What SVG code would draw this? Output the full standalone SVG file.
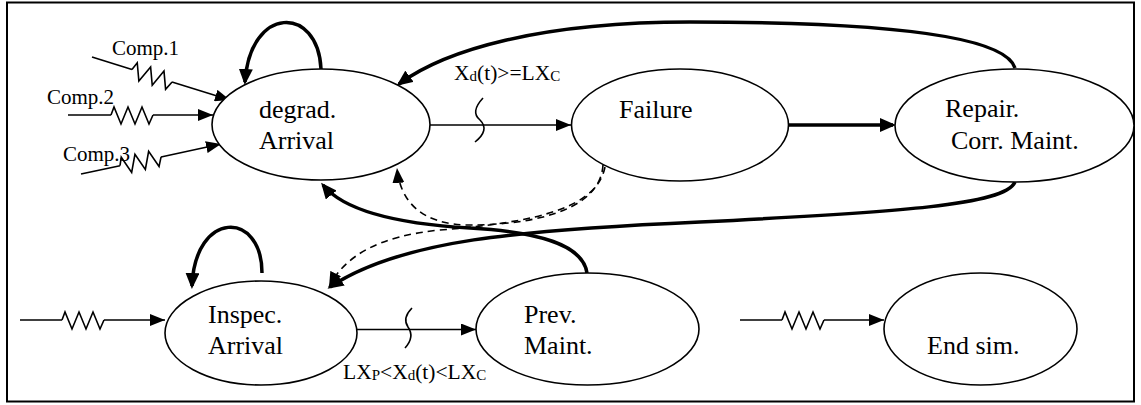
<svg xmlns="http://www.w3.org/2000/svg" width="1141" height="405" viewBox="0 0 1141 405">
<style>
.node{fill:#fff;stroke:#000;stroke-width:1.6}
text{font-family:'Liberation Serif','Times New Roman',Times,'DejaVu Serif',serif;fill:#000}
.t{font-size:26px}
.s{font-size:21px}
.l{font-size:21.5px}
.sub{font-size:15px}
.thin{fill:none;stroke:#000;stroke-width:1.6}
.thick{fill:none;stroke:#000;stroke-width:3.5}
.dash{fill:none;stroke:#000;stroke-width:1.6;stroke-dasharray:7 5}
</style>
<defs>
<marker id="ah" markerWidth="16" markerHeight="12" refX="15" refY="6" orient="auto" markerUnits="userSpaceOnUse"><path d="M0,0 L15,6 L0,12 z" fill="#000"/></marker>
<marker id="ahk" markerWidth="16" markerHeight="14" refX="13" refY="7" orient="auto" markerUnits="userSpaceOnUse"><path d="M0,0 L16,7 L0,14 z" fill="#000"/></marker>
<path id="spring" d="M0,0 L3,-8 L10,9 L17,-8 L24,9 L31,-8 L38,9 L42,0" fill="none" stroke="#000" stroke-width="1.6"/>
</defs>
<rect x="7" y="2.5" width="1127" height="399" fill="#fff" stroke="#000" stroke-width="2"/>
<g id="connectors">
<path class="thin" d="M92,57 L132,69.5"/>
<use href="#spring" transform="translate(132,69.5) rotate(17.3)"/>
<path class="thin" d="M172,82 L230,100" marker-end="url(#ah)"/>
<path class="thin" d="M68,115 L111,115"/>
<use href="#spring" transform="translate(111,115)"/>
<path class="thin" d="M153,115 L213,115" marker-end="url(#ah)"/>
<path class="thin" d="M81,174 L120,165.7"/>
<use href="#spring" transform="translate(120,165.7) rotate(-12.1)"/>
<path class="thin" d="M161,157 L221,144" marker-end="url(#ah)"/>
<path class="thin" d="M20,320 L62,320"/>
<use href="#spring" transform="translate(62,320)"/>
<path class="thin" d="M104,320 L165,320" marker-end="url(#ah)"/>
<path class="thin" d="M740,320 L782,320"/>
<use href="#spring" transform="translate(782,320)"/>
<path class="thin" d="M824,320 L884,320" marker-end="url(#ah)"/>
<path class="thick" d="M321,69 C318,5 250,5 245,82" marker-end="url(#ahk)"/>
<path class="thick" d="M262,273 C262,210 195,210 192,286" marker-end="url(#ahk)"/>
<path class="thin" d="M430,125 L571,125" marker-end="url(#ah)"/>
<path class="thin" d="M483,98 Q470,112 480,120 Q490,130 475,142"/>
<path class="thick" d="M789,125 L893,125" marker-end="url(#ahk)"/>
<path class="thick" d="M1015,68 C1005,35 880,22 690,22 C540,22 445,50 399,84" marker-end="url(#ahk)"/>
<path class="thick" d="M1015,182 C1005,205 900,212 700,222 C520,230 400,240 330,287" marker-end="url(#ahk)"/>
<path class="thick" d="M587,273 C583,245 540,232 470,228 C400,224 345,212 323,185" marker-end="url(#ahk)"/>
<path class="dash" d="M603,165 C600,215 520,225 470,225 C420,225 400,200 397,168" marker-end="url(#ah)"/>
<path class="dash" d="M605,167 C597,207 540,222 440,230 C380,236 345,255 329,287" marker-end="url(#ah)"/>
<path class="thin" d="M357,329.5 L476,329.5" marker-end="url(#ah)"/>
<path class="thin" d="M412,308 Q402,318 408,327 Q415,337 405,348"/>
</g>
<g id="degrad">
<ellipse class="node" cx="321" cy="124.5" rx="109" ry="55.5"/>
<text class="t" x="259" y="118">degrad.</text>
<text class="t" x="259" y="149">Arrival</text>
</g>
<g id="failure">
<ellipse class="node" cx="680" cy="125" rx="108.5" ry="56"/>
<text class="t" x="619" y="118">Failure</text>
</g>
<g id="repair">
<ellipse class="node" cx="1014.5" cy="125.5" rx="119.5" ry="56.5"/>
<text class="t" x="945" y="117">Repair.</text>
<text class="t" x="951" y="149">Corr. Maint.</text>
</g>
<g id="inspec">
<ellipse class="node" cx="261" cy="333" rx="96" ry="52"/>
<text class="t" x="208" y="323">Inspec.</text>
<text class="t" x="208" y="354">Arrival</text>
</g>
<g id="prev">
<ellipse class="node" cx="587.5" cy="329" rx="111.5" ry="56"/>
<text class="t" x="524" y="323">Prev.</text>
<text class="t" x="524" y="354">Maint.</text>
</g>
<g id="endsim">
<ellipse class="node" cx="980.5" cy="329" rx="96.5" ry="56"/>
<text class="t" x="927" y="354">End sim.</text>
</g>
<g id="labels">
<text class="s" x="112" y="55">Comp.1</text>
<text class="s" x="47" y="104">Comp.2</text>
<text class="s" x="63" y="161">Comp.3</text>
<text class="l" x="454" y="80">X<tspan class="sub" dy="1">d</tspan><tspan dy="-1">(t)&gt;=LX</tspan><tspan class="sub" dy="1">C</tspan></text>
<text class="l" x="343" y="379">LX<tspan class="sub" dy="1">P</tspan><tspan dy="-1">&lt;X</tspan><tspan class="sub" dy="1">d</tspan><tspan dy="-1">(t)&lt;LX</tspan><tspan class="sub" dy="1">C</tspan></text>
</g>
</svg>
